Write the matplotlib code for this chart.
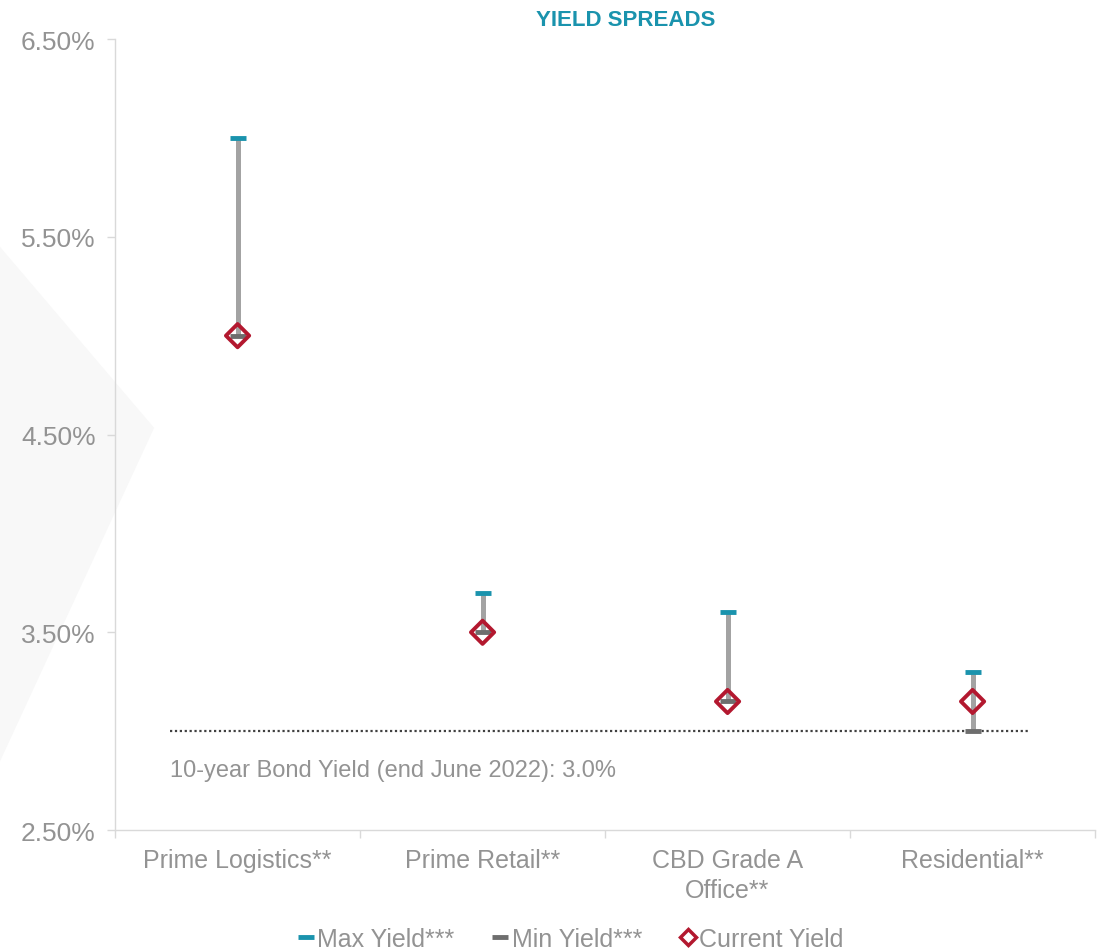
import matplotlib.pyplot as plt
from matplotlib.lines import Line2D
from matplotlib.patches import Polygon
from matplotlib.ticker import FixedLocator, FuncFormatter
import numpy as np

plt.rcParams['font.family'] = ['Liberation Sans', 'DejaVu Sans']

# ─────────────────────────────────────────────
# DATOS
# ─────────────────────────────────────────────
categories = ['Prime Logistics**', 'Prime Retail**', 'CBD Grade A\nOffice**', 'Residential**']
max_yield = [6.00, 3.70, 3.60, 3.30]
min_yield = [5.00, 3.50, 3.15, 3.00]
current_yield = [5.00, 3.50, 3.15, 3.15]
bond_yield = 3.0
bond_label = '10-year Bond Yield (end June 2022): 3.0%'
y_ticks = [2.5, 3.5, 4.5, 5.5, 6.5]

TEAL = '#1a93ad'
GREY_TXT = '#939393'
BAR = '#a3a3a3'
MIN_C = '#6e6e6e'
RED = '#b3182f'

fig = plt.figure(figsize=(11.01, 9.53), dpi=100)

# fondo con una forma gris muy suave a la izquierda
bg = fig.add_axes([0, 0, 1, 1], zorder=-1)
bg.set_xlim(0, 1)
bg.set_ylim(0, 1)
bg.axis('off')
bg.add_patch(Polygon([[0, 0.74], [0.14, 0.55], [0.0, 0.20]], closed=True,
                     facecolor='#f8f8f8', edgecolor='none'))

ax = fig.add_axes([0.1045, 0.128, 0.8901, 0.830])

x = np.arange(len(categories))

# líneas verticales min-max
ax.vlines(x, min_yield, max_yield, color=BAR, linewidth=3.6, zorder=2)
ax.scatter(x, max_yield, marker='_', s=130, linewidths=3.5, color=TEAL, zorder=3)
ax.scatter(x, min_yield, marker='_', s=130, linewidths=3.5, color=MIN_C, zorder=3)
ax.scatter(x, current_yield, marker='D', s=140, facecolor='none', edgecolor=RED,
           linewidths=2.8, zorder=5)

# línea del bono
ax.plot([-0.275, 3.235], [bond_yield, bond_yield], linestyle=(0, (1, 1.2)),
        color='#404040', linewidth=1.6, zorder=1)
ax.text(-0.275, bond_yield - 0.14, bond_label, color=GREY_TXT, fontsize=17,
        ha='left', va='top')

ax.set_xlim(-0.5, 3.5)
ax.set_ylim(2.5, 6.5)
ax.yaxis.set_major_locator(FixedLocator(y_ticks))
ax.yaxis.set_major_formatter(FuncFormatter(lambda v, p: f'{v:.2f}%'))
ax.set_xticks(x)
ax.set_xticklabels(categories, linespacing=1.3)
ax.xaxis.set_minor_locator(FixedLocator([-0.5, 0.5, 1.5, 2.5, 3.5]))
ax.tick_params(axis='x', which='major', length=0, pad=13, labelsize=18, labelcolor=GREY_TXT)
ax.tick_params(axis='x', which='minor', length=6, color='#d9d9d9', width=1)
ax.tick_params(axis='y', length=6, color='#d9d9d9', width=1, labelsize=19,
               labelcolor=GREY_TXT, pad=8)

for s in ['top', 'right']:
    ax.spines[s].set_visible(False)
for s in ['left', 'bottom']:
    ax.spines[s].set_color('#d9d9d9')
    ax.spines[s].set_linewidth(1)
ax.patch.set_alpha(0)

fig.text(0.5686, 0.978, 'YIELD SPREADS', color=TEAL, fontsize=16, fontweight='bold',
         ha='center', va='center')

handles = [
    Line2D([], [], marker='_', linestyle='none', color=TEAL, markersize=12, markeredgewidth=3.5),
    Line2D([], [], marker='_', linestyle='none', color=MIN_C, markersize=12, markeredgewidth=3.5),
    Line2D([], [], marker='D', linestyle='none', markerfacecolor='white', markeredgecolor=RED,
           markersize=8, markeredgewidth=2.5),
]
leg = fig.legend(handles, ['Max Yield***', 'Min Yield***', 'Current Yield'],
                 loc='center', bbox_to_anchor=(0.518, 0.014), ncol=3, frameon=False,
                 fontsize=18, handlelength=0.7, handletextpad=0.1, columnspacing=1.5)
for t in leg.get_texts():
    t.set_color(GREY_TXT)

fig.savefig('out.png', dpi=100)
